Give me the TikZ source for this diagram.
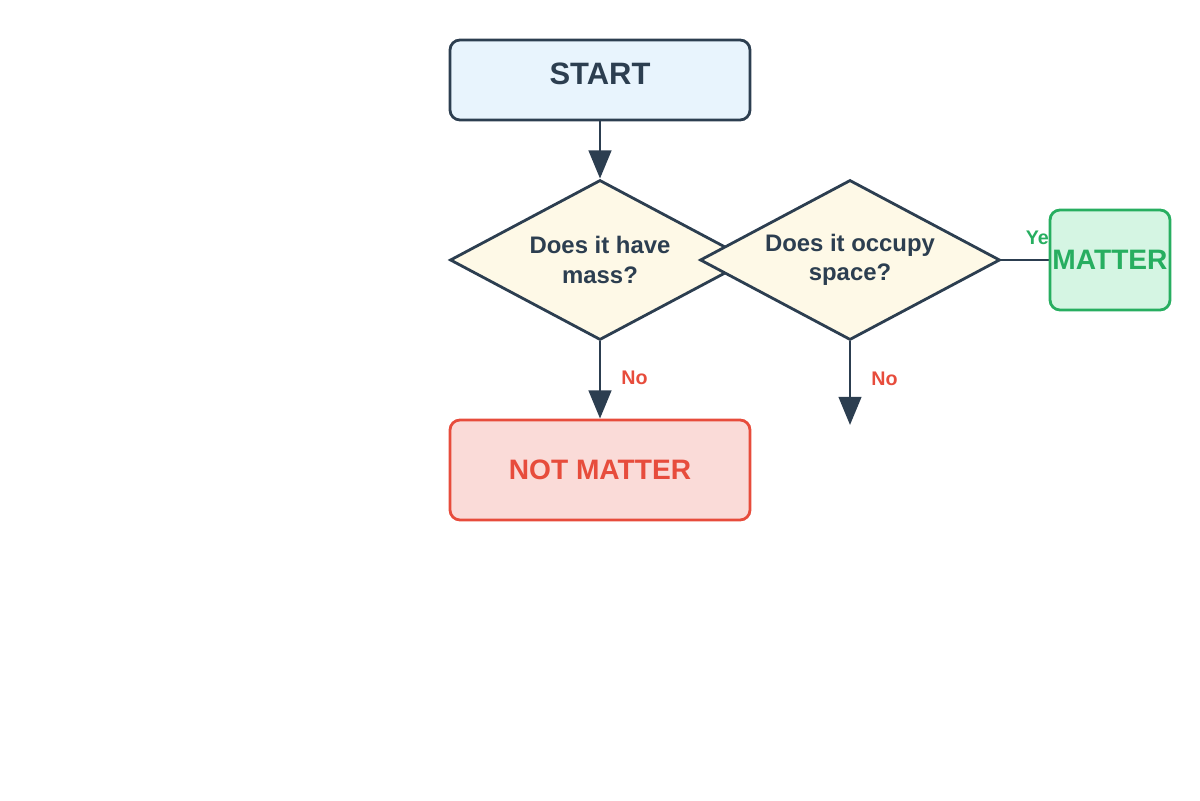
\documentclass[tikz,border=0pt]{standalone}
\usepackage{fontspec}
\setmainfont{Liberation Sans}
\usetikzlibrary{shapes.geometric,arrows.meta,backgrounds}
\definecolor{ink}{HTML}{2C3E50}
\definecolor{startfill}{HTML}{E8F4FD}
\definecolor{askfill}{HTML}{FEF9E7}
\definecolor{nored}{HTML}{E74C3C}
\definecolor{nofill}{HTML}{FADBD8}
\definecolor{yesgreen}{HTML}{27AE60}
\definecolor{yesfill}{HTML}{D5F5E3}
\begin{document}
\begin{tikzpicture}
  \useasboundingbox (0,0) rectangle (30,20);
  \tikzstyle{box} = [draw=ink, fill=startfill, line width=2pt, rounded corners=0.25cm, inner sep=0pt, font=\bfseries]
  \tikzstyle{ask} = [diamond, draw=ink, fill=askfill, line width=2pt, aspect=1.875, inner sep=0pt, minimum width=7.5cm, minimum height=4cm, align=center, text=ink, font=\fontsize{17}{21}\selectfont\bfseries]
  \tikzstyle{line} = [draw=ink, line width=2pt, -{Triangle[width=16pt,length=20pt]}]
  \tikzstyle{lbl} = [inner sep=0pt, font=\fontsize{14}{16}\selectfont\bfseries]

  \node[box, minimum width=7.5cm, minimum height=2cm, text depth=0.3cm, text=ink, font=\fontsize{22}{26}\selectfont\bfseries] (start) at (15,18) {START};
  \node[ask] (mass) at (15,13.5) {Does it have\\mass?};
  \node[ask] (space) at (21.25,13.5) {Does it occupy\\space?};
  \node[box, draw=nored, fill=nofill, text=nored, minimum width=7.5cm, minimum height=2.5cm, font=\fontsize{20}{24}\selectfont\bfseries] (notm) at (15,8.25) {NOT MATTER};
  \node[box, draw=yesgreen, fill=yesfill, text=yesgreen, minimum width=3cm, minimum height=2.5cm, font=\fontsize{20}{24}\selectfont\bfseries] (matter) at (27.75,13.5) {MATTER};
  \coordinate (down) at (21.25,9.375);

  \path [line] (start) -- (mass);
  \path [line] (mass) -- (notm) node[lbl, midway, anchor=west, xshift=0.5cm, yshift=0.05cm, text=nored] {No};
  \path [line] (space) -- (down) node[lbl, pos=0.45, anchor=west, xshift=0.5cm, text=nored] {No};
  \begin{pgfonlayer}{background}
    \draw[ink, line width=2pt] (space) -- (matter) node[lbl, pos=0, anchor=south west, xshift=0.575cm, yshift=0.35cm, text=yesgreen] {Yes};
  \end{pgfonlayer}

\end{tikzpicture}
\end{document}
